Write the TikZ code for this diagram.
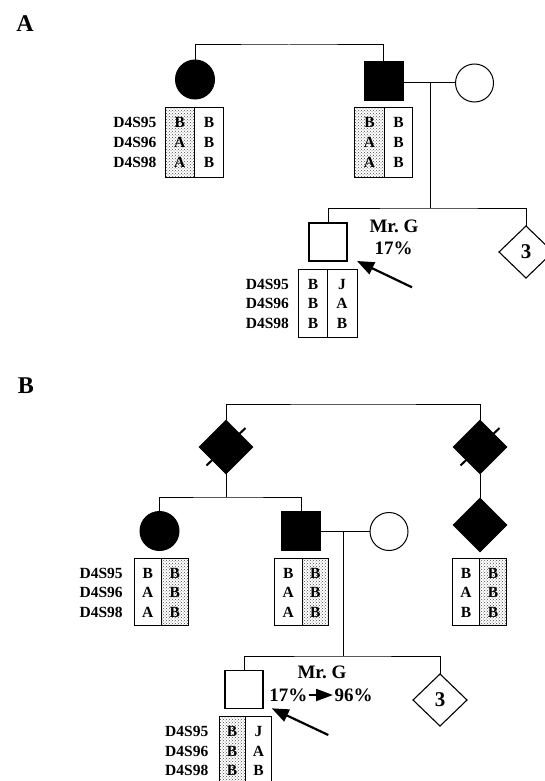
\documentclass[tikz,border=0pt]{standalone}
\usepackage{fontspec}
\setmainfont{Liberation Serif}
\usetikzlibrary{shapes.geometric,arrows.meta,patterns}
\newcommand\gcol[4]{\foreach \t [count=\i] in {#4} \node[al] (#1\i) at (#2,#3+0.5+19.5*\i) {\t};}
\newcommand\gmk[3]{\foreach \t [count=\i] in {D4S95,D4S96,D4S98} \node[mk] (#1\i) at (#2,#3+0.5+19.5*\i) {\t};}
\begin{document}
\begin{tikzpicture}[x=1pt,y=-1pt,
  every node/.style={inner sep=0pt, outer sep=0pt},
  ln/.style={line width=1pt},
  fcirc/.style={circle, fill=black, draw=black, line width=1pt, minimum size=39pt},
  ocirc/.style={circle, draw=black, fill=white, line width=1pt, minimum size=38pt},
  fsq/.style={rectangle, fill=black, draw=black, line width=1pt, minimum size=39pt},
  osq/.style={rectangle, draw=black, line width=1.1pt, minimum size=38pt},
  fdia/.style={diamond, fill=black, draw=black, minimum width=54pt, minimum height=54pt},
  odia/.style={diamond, draw=black, line width=1.1pt, minimum width=54pt, minimum height=52pt, font=\bfseries\fontsize{21}{21}\selectfont},
  lab/.style={font=\bfseries\fontsize{24}{24}\selectfont},
  big/.style={font=\bfseries\fontsize{19}{19}\selectfont},
  al/.style={font=\bfseries\fontsize{15.5}{15.5}\selectfont, anchor=base},
  mk/.style={font=\bfseries\fontsize{15.5}{15.5}\selectfont, anchor=base east},
  shade/.style={pattern=crosshatch dots, pattern color=black!70},
  pointer/.style={line width=2.2pt, -{Triangle[length=17pt,width=13pt]}},
  slash/.style={line width=2pt},
]
\useasboundingbox (0,0) rectangle (545,781);

% ================= Panel A =================
\node[lab] (labA) at (25,24) {A};
\node[fcirc] (a1) at (195,79.5) {};
\node[fsq] (a2) at (383.5,81) {};
\node[ocirc] (a3) at (474.5,83) {};
\coordinate (atop) at (289,45);
\draw[ln] (a1.north) |- (atop) -| (a2.north);
\draw[ln] (a2.east |- a3.west) -- (a3.west);
\coordinate (adesc) at (430,83);
\coordinate (asib) at (430,208);
\draw[ln] (adesc) -- (asib);
\node[osq] (a4) at (328,242) {};
\node[odia] (a5) at (526,252) {3};
\draw[ln] (a4.north) |- (asib) -| (a5.north);
\node[big] (aG) at (394,226) {Mr.\ G};
\node[big] (ap) at (393.5,248) {17\%};
\coordinate (aarr) at (412,287.3);
\coordinate (aarrtip) at (357,261);
\draw[pointer] (aarr) -- (aarrtip);

% left parent box
\fill[shade] (165,108) rectangle (194.6,177);
\draw[ln] (165,108) rectangle (223.5,177) (194.6,108) -- (194.6,177);
\gmk{amk1}{156.5}{108}
\gcol{a1L}{179.8}{108}{B,A,A}
\gcol{a1R}{209}{108}{B,B,B}
% right parent box
\fill[shade] (354.5,108) rectangle (384.4,177);
\draw[ln] (354.5,108) rectangle (412.6,177) (384.4,108) -- (384.4,177);
\gcol{a2L}{369.5}{108}{B,A,A}
\gcol{a2R}{398.5}{108}{B,B,B}
% Mr G box
\draw[ln] (298.7,269) rectangle (357,337) (327,269) -- (327,337);
\gmk{amk4}{289}{269}
\gcol{a4L}{313}{269}{B,B,B}
\gcol{a4R}{342}{269}{J,A,B}

% ================= Panel B =================
\node[lab] (labB) at (26,386) {B};
\node[fdia] (bd1) at (226,447) {};
\node[fdia] (bd2) at (480,447) {};
\node[fdia] (bd3) at (480,525) {};
\draw[slash] (bd1) ++(-19.5,18.5) -- ++(39,-37.5);
\draw[slash] (bd2) ++(-19.5,18.5) -- ++(39,-37.5);
\coordinate (btop) at (353,404);
\draw[ln] (bd1.north) |- (btop) -| (bd2.north);
\draw[ln] (bd2.south) -- (bd3.north);
\node[fcirc] (b1) at (159.5,531) {};
\node[fsq] (b2) at (301,531) {};
\node[ocirc] (b3) at (389,531.5) {};
\coordinate (bsib1) at (226,497);
\draw[ln] (bd1.south) -- (bsib1);
\draw[ln] (b1.north) |- (bsib1) -| (b2.north);
\draw[ln] (b2.east |- b3.west) -- (b3.west);
\coordinate (bdesc) at (343,531.5);
\coordinate (bsib2) at (343,656);
\draw[ln] (bdesc) -- (bsib2);
\node[osq] (b4) at (244,689.5) {};
\node[odia] (b5) at (440,700) {3};
\draw[ln] (b4.north) |- (bsib2) -| (b5.north);
\node[big] (bG) at (322,672.5) {Mr.\ G};
\node[big] (b17) at (288.3,695) {17\%};
\node[big] (b96) at (353.5,695) {96\%};
\draw[line width=2pt, -{Triangle[length=17pt,width=12pt]}, shorten <=1.5pt, shorten >=1.5pt] (b17.east) -- (b96.west);
\coordinate (barr) at (328.3,735);
\coordinate (barrtip) at (271.7,708.3);
\draw[pointer] (barr) -- (barrtip);

% left box
\fill[shade] (161.5,558) rectangle (188,625.5);
\draw[ln] (134,558) rectangle (188,625.5) (161.5,558) -- (161.5,625.5);
\gmk{bmk1}{122.7}{558}
\gcol{b1L}{147.8}{558}{B,A,A}
\gcol{b1R}{174.8}{558}{B,B,B}
% middle box
\fill[shade] (302,558) rectangle (328.5,625.5);
\draw[ln] (274.5,558) rectangle (328.5,625.5) (302,558) -- (302,625.5);
\gcol{b2L}{288.3}{558}{B,A,A}
\gcol{b2R}{315.3}{558}{B,B,B}
% right box
\fill[shade] (479.5,558) rectangle (506.7,625.5);
\draw[ln] (452.7,558) rectangle (506.7,625.5) (479.5,558) -- (479.5,625.5);
\gcol{b3L}{466}{558}{B,A,B}
\gcol{b3R}{493}{558}{B,B,B}
% Mr G box
\fill[shade] (219.3,716.5) rectangle (245,781);
\draw[ln] (219.3,781) -- (219.3,716.5) -- (271.7,716.5) -- (271.7,781) (245,716.5) -- (245,781);
\gmk{bmk4}{208.3}{716.5}
\gcol{b4L}{232}{716.5}{B,B,B}
\gcol{b4R}{258.5}{716.5}{J,A,B}
\end{tikzpicture}
\end{document}
